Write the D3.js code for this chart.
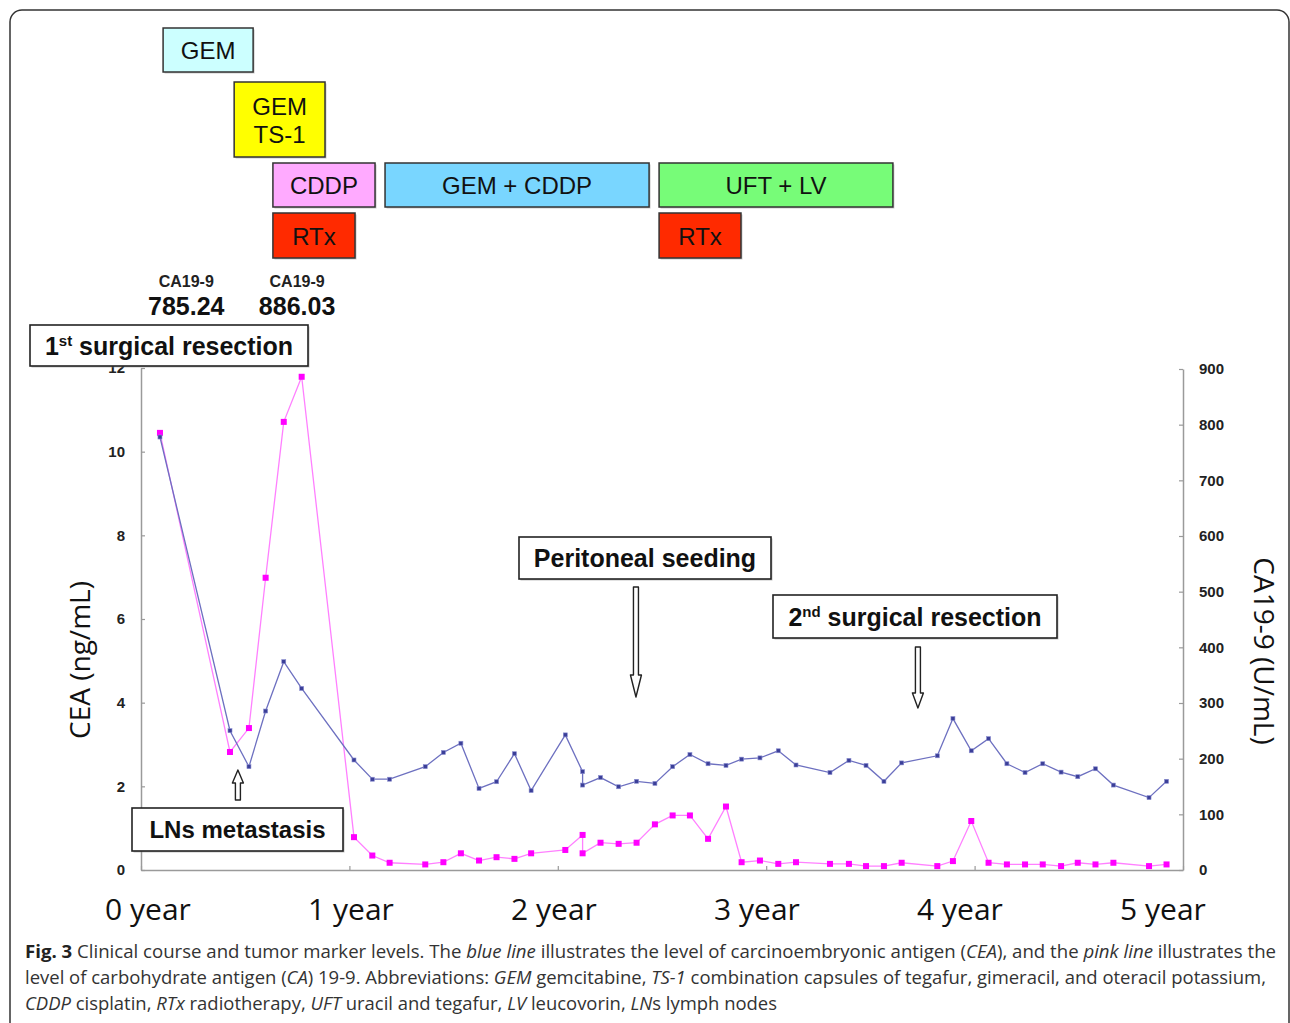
<!DOCTYPE html>
<html>
<head>
<meta charset="utf-8">
<script src="https://cdn.jsdelivr.net/npm/d3@7"></script>
<style>
  body { margin: 0; background: #fff; }
  svg { display: block; font-family: "Liberation Sans", Arial, sans-serif; }
</style>
</head>
<body>
<svg id="chart" width="1290" height="1023"></svg>
<script>
// time of each measurement, in years from the first visit
var years = [0.091, 0.427, 0.518, 0.598, 0.685, 0.771, 1.022, 1.110, 1.193, 1.364,
  1.451, 1.535, 1.622, 1.706, 1.792, 1.872, 2.036, 2.119, 2.119, 2.205,
  2.292, 2.378, 2.466, 2.551, 2.634, 2.721, 2.807, 2.882, 2.970, 3.058,
  3.143, 3.306, 3.397, 3.479, 3.565, 3.650, 3.821, 3.896, 3.984, 4.067,
  4.155, 4.242, 4.327, 4.415, 4.495, 4.580, 4.666, 4.837, 4.921];

// CEA (ng/mL), blue line
var cea = [10.35, 3.33, 2.47, 3.80, 4.98, 4.34, 2.63, 2.17, 2.17, 2.47,
  2.81, 3.03, 1.95, 2.11, 2.78, 1.90, 3.23, 2.35, 2.03, 2.21,
  1.99, 2.12, 2.07, 2.47, 2.76, 2.54, 2.50, 2.65, 2.68, 2.85,
  2.51, 2.33, 2.62, 2.50, 2.12, 2.56, 2.73, 3.62, 2.85, 3.14,
  2.54, 2.33, 2.54, 2.34, 2.23, 2.42, 2.03, 1.73, 2.12];

// CA19-9 (U/mL), pink line
var ca199 = [785.24, 212, 255, 525, 805, 886.03, 59, 26, 13, 10,
  14, 30, 17, 23, 20, 30, 36, 63, 30, 49,
  47, 49, 82, 98, 98, 56, 114, 14, 17, 11,
  14, 11, 11, 7, 7, 13, 7, 16, 88, 13,
  10, 10, 10, 7, 13, 10, 13, 7, 10];

var ceaTicks = [0, 2, 4, 6, 8, 10, 12];
var caTicks = [0, 100, 200, 300, 400, 500, 600, 700, 800, 900];
var yearTicks = [0, 1, 2, 3, 4, 5];
var yearLabels = ['0 year', '1 year', '2 year', '3 year', '4 year', '5 year'];

// treatment periods (years), row of the timeline
var treatments = [
  { name: ['GEM'], start: 0.106, end: 0.538, row: 0 },
  { name: ['GEM', 'TS-1'], start: 0.447, end: 0.883, row: 1 },
  { name: ['CDDP'], start: 0.633, end: 1.123, row: 2 },
  { name: ['GEM + CDDP'], start: 1.171, end: 2.438, row: 2 },
  { name: ['UFT + LV'], start: 2.486, end: 3.608, row: 2 },
  { name: ['RTx'], start: 0.633, end: 1.027, row: 3 },
  { name: ['RTx'], start: 2.486, end: 2.879, row: 3 }
];
var treatColors = {
  'GEM': '#ccffff', 'GEM TS-1': '#ffff00', 'CDDP': '#ffaaff',
  'GEM + CDDP': '#79d6ff', 'UFT + LV': '#77fc78', 'RTx': '#ff2a00'
};

var peakLabels = [
  { title: 'CA19-9', value: '785.24', t: 0.217 },
  { title: 'CA19-9', value: '886.03', t: 0.749 }
];

var svg = d3.select('#chart');

var x = d3.scaleLinear().domain([0, 5]).range([141, 1183]);
var xLabel = d3.scaleLinear().domain([0, 5]).range([148, 1163]);
var yL = d3.scaleLinear().domain([0, 12]).range([870, 368]);
var yR = d3.scaleLinear().domain([0, 900]).range([870, 369]);

// outer frame
svg.append('rect')
  .attr('x', 10).attr('y', 10).attr('width', 1279).attr('height', 1060)
  .attr('rx', 12).attr('fill', 'none').attr('stroke', '#333').attr('stroke-width', 1.5);

// treatment timeline
var rowTop = [28, 82, 163, 213];
var rowH = [44, 75, 44, 45];

var tb = svg.append('g').selectAll('g').data(treatments).enter().append('g');
tb.append('rect')
  .attr('x', function(d){ return x(d.start) + 1.5 })
  .attr('y', function(d){ return rowTop[d.row] + 1.5 })
  .attr('width', function(d){ return x(d.end) - x(d.start) })
  .attr('height', function(d){ return rowH[d.row] })
  .attr('fill', '#999').attr('opacity', 0.5);
tb.append('rect')
  .attr('x', function(d){ return x(d.start) })
  .attr('y', function(d){ return rowTop[d.row] })
  .attr('width', function(d){ return x(d.end) - x(d.start) })
  .attr('height', function(d){ return rowH[d.row] })
  .attr('fill', function(d){ return treatColors[d.name.join(' ')] })
  .attr('stroke', '#333').attr('stroke-width', 1.5);
tb.each(function(d) {
  var g = d3.select(this);
  var cx = (x(d.start) + x(d.end)) / 2;
  var cy = rowTop[d.row] + rowH[d.row] / 2;
  var n = d.name.length;
  d.name.forEach(function(line, i) {
    g.append('text')
      .attr('x', cx)
      .attr('y', cy + (i - (n - 1) / 2) * 28)
      .attr('dy', '0.38em')
      .attr('text-anchor', 'middle')
      .attr('font-size', 24)
      .attr('fill', '#111')
      .text(line);
  });
});

// CA19-9 peak values
var pl = svg.append('g').selectAll('g').data(peakLabels).enter().append('g');
pl.append('text')
  .attr('x', function(d){ return x(d.t) }).attr('y', 287)
  .attr('text-anchor', 'middle').attr('font-size', 16).attr('font-weight', 'bold')
  .attr('fill', '#222')
  .text(function(d){ return d.title });
pl.append('text')
  .attr('x', function(d){ return x(d.t) }).attr('y', 315)
  .attr('text-anchor', 'middle').attr('font-size', 25).attr('font-weight', 'bold')
  .attr('fill', '#111')
  .text(function(d){ return d.value });

// axes
function styleAxis(g) {
  g.select('.domain').attr('stroke', '#9a9a9a').attr('stroke-width', 1.5);
  g.selectAll('.tick line').attr('stroke', '#9a9a9a').attr('stroke-width', 1.2);
  g.selectAll('.tick text')
    .attr('font-size', 15).attr('font-weight', 'bold').attr('fill', '#222')
    .attr('font-family', '"Liberation Sans", Arial, sans-serif');
}

svg.append('g')
  .attr('transform', 'translate(' + x(0) + ',0)')
  .call(d3.axisLeft(yL).tickValues(ceaTicks).tickSize(-4).tickSizeOuter(0).tickPadding(16))
  .call(styleAxis);

svg.append('g')
  .attr('transform', 'translate(' + x(5) + ',0)')
  .call(d3.axisRight(yR).tickValues(caTicks).tickSize(-4).tickSizeOuter(0).tickPadding(16))
  .call(styleAxis);

svg.append('g')
  .attr('transform', 'translate(0,' + yL(0) + ')')
  .call(d3.axisBottom(x).tickValues(yearTicks).tickSize(-4).tickSizeOuter(0).tickFormat(''))
  .call(styleAxis);

svg.append('g').selectAll('text').data(yearTicks).enter().append('text')
  .attr('x', function(d){ return xLabel(d) })
  .attr('y', 920)
  .attr('text-anchor', 'middle')
  .attr('font-family', '"Open Sans", sans-serif')
  .attr('font-size', 30)
  .attr('fill', '#111')
  .text(function(d, i){ return yearLabels[i] });

svg.append('text')
  .attr('transform', 'translate(80,660) rotate(-90)')
  .attr('dy', '0.35em').attr('text-anchor', 'middle')
  .attr('font-family', '"Open Sans", sans-serif').attr('font-size', 28).attr('fill', '#111')
  .text('CEA (ng/mL)');

svg.append('text')
  .attr('transform', 'translate(1264,651) rotate(90)')
  .attr('dy', '0.35em').attr('text-anchor', 'middle')
  .attr('font-family', '"Open Sans", sans-serif').attr('font-size', 28).attr('fill', '#111')
  .text('CA19-9 (U/mL)');

// series
var pts = years.map(function(t, i){ return { t: t, cea: cea[i], ca: ca199[i] } });

var pinkLine = d3.line().x(function(d){ return x(d.t) }).y(function(d){ return yR(d.ca) });
var blueLine = d3.line().x(function(d){ return x(d.t) }).y(function(d){ return yL(d.cea) });

svg.append('path').datum(pts).attr('d', pinkLine)
  .attr('fill', 'none').attr('stroke', '#ff80ff').attr('stroke-width', 1.3);
svg.append('path').datum(pts).attr('d', blueLine)
  .attr('fill', 'none').attr('stroke', '#6d70c0').attr('stroke-width', 1.3);

svg.append('g').selectAll('rect').data(pts).enter().append('rect')
  .attr('x', function(d){ return x(d.t) - 3 })
  .attr('y', function(d){ return yR(d.ca) - 3 })
  .attr('width', 6).attr('height', 6)
  .attr('fill', '#ff00ff');
svg.append('g').selectAll('rect').data(pts).enter().append('rect')
  .attr('x', function(d){ return x(d.t) - 2 })
  .attr('y', function(d){ return yL(d.cea) - 2 })
  .attr('width', 4).attr('height', 4)
  .attr('fill', '#3b3f98').attr('stroke', '#8a8dd0').attr('stroke-width', 0.6);

// annotations
function hollowArrow(cx, y0, y1, head) {
  var dir = y1 > y0 ? 1 : -1;
  var hb = y1 - dir * head;
  return 'M' + (cx - 2.5) + ',' + y0 + 'L' + (cx + 2.5) + ',' + y0 +
    'L' + (cx + 2.5) + ',' + hb + 'L' + (cx + 5.5) + ',' + hb +
    'L' + cx + ',' + y1 + 'L' + (cx - 5.5) + ',' + hb +
    'L' + (cx - 2.5) + ',' + hb + 'Z';
}

function labelBox(x0, y0, w, h, parts, size) {
  var g = svg.append('g');
  g.append('rect').attr('x', x0 + 1.5).attr('y', y0 + 1.5).attr('width', w).attr('height', h)
    .attr('fill', '#888').attr('opacity', 0.5);
  g.append('rect').attr('x', x0).attr('y', y0).attr('width', w).attr('height', h)
    .attr('fill', '#fff').attr('stroke', '#222').attr('stroke-width', 1.6);
  var t = g.append('text')
    .attr('x', x0 + w / 2).attr('y', y0 + h / 2).attr('dy', '0.36em')
    .attr('text-anchor', 'middle').attr('font-size', size).attr('font-weight', 'bold')
    .attr('fill', '#111');
  parts.forEach(function(p) {
    var s = t.append('tspan').text(p[0]);
    if (p[1] === 'sup') s.attr('font-size', size * 0.6).attr('dy', -size * 0.34);
    if (p[1] === 'back') s.attr('dy', size * 0.34);
  });
}

labelBox(30, 325, 278, 41, [['1'], ['st', 'sup'], [' surgical resection', 'back']], 25);
labelBox(519, 537, 252, 42, [['Peritoneal seeding']], 25);
labelBox(773, 595, 284, 43, [['2'], ['nd', 'sup'], [' surgical resection', 'back']], 25);
labelBox(132, 808, 211, 43, [['LNs metastasis']], 24);

var arrows = [
  { t: 2.375, from: 587, to: 697, head: 22 },
  { t: 3.728, from: 647, to: 708, head: 15 },
  { t: 0.465, from: 800, to: 770, head: 13 }
];
svg.append('g').selectAll('path').data(arrows).enter().append('path')
  .attr('d', function(d){ return hollowArrow(x(d.t), d.from, d.to, d.head) })
  .attr('fill', '#fff').attr('stroke', '#222').attr('stroke-width', 1.4)
  .attr('stroke-linejoin', 'round');

// caption
var caption = [
  { y: 958, len: 1251, parts: [['Fig. 3', 'b'], [' Clinical course and tumor marker levels. The '], ['blue line', 'i'],
    [' illustrates the level of carcinoembryonic antigen ('], ['CEA', 'i'], ['), and the '], ['pink line', 'i'], [' illustrates the']] },
  { y: 984, len: 1241, parts: [['level of carbohydrate antigen ('], ['CA', 'i'], [') 19-9. Abbreviations: '], ['GEM', 'i'],
    [' gemcitabine, '], ['TS-1', 'i'], [' combination capsules of tegafur, gimeracil, and oteracil potassium,']] },
  { y: 1010, len: 752, parts: [['CDDP', 'i'], [' cisplatin, '], ['RTx', 'i'], [' radiotherapy, '], ['UFT', 'i'],
    [' uracil and tegafur, '], ['LV', 'i'], [' leucovorin, '], ['LN', 'i'], ['s lymph nodes']] }
];
caption.forEach(function(line) {
  var t = svg.append('text')
    .attr('x', 25).attr('y', line.y)
    .attr('font-family', '"Open Sans", sans-serif').attr('font-size', 18)
    .attr('fill', '#333')
    .attr('textLength', line.len).attr('lengthAdjust', 'spacingAndGlyphs');
  line.parts.forEach(function(p) {
    var s = t.append('tspan').text(p[0]);
    if (p[1] === 'b') s.attr('font-weight', 'bold').attr('fill', '#222');
    if (p[1] === 'i') s.attr('font-style', 'italic');
  });
});
</script>
</body>
</html>
